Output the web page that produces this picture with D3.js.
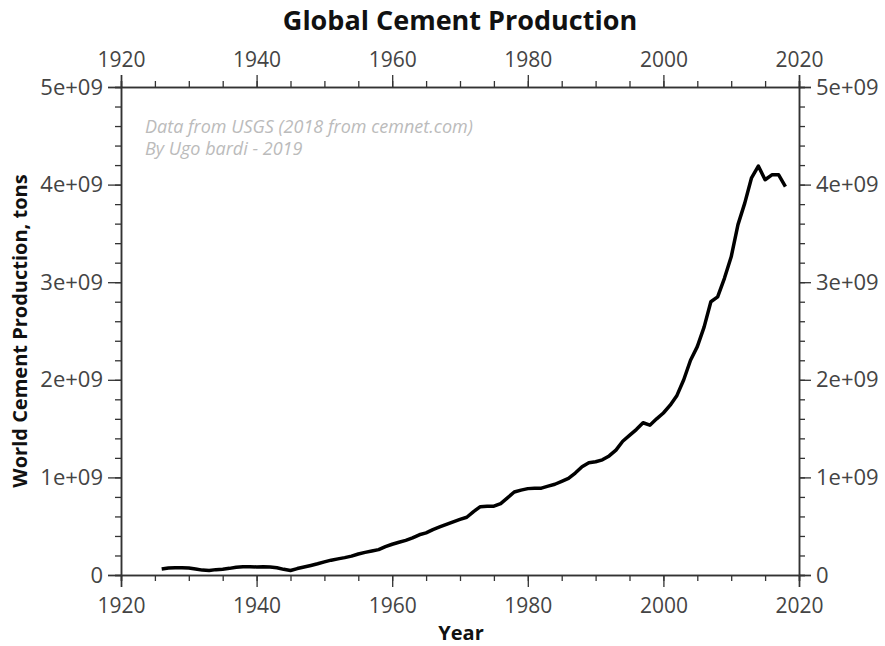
<!DOCTYPE html>
<html><head><meta charset="utf-8">
<script src="https://cdn.jsdelivr.net/npm/d3@7"></script>
<style>body{margin:0;background:#fff}</style>
</head><body>
<svg id="c" width="885" height="646"></svg>
<script>
const years = d3.range(1926, 2019);
const production = [
0.061,0.072,0.075,0.075,0.072,0.062,0.050,0.047,0.055,0.060,
0.068,0.080,0.085,0.085,0.083,0.085,0.082,0.074,0.058,0.046,
0.066,0.082,0.098,0.115,0.134,0.152,0.165,0.178,0.193,0.215,
0.232,0.246,0.260,0.290,0.315,0.335,0.355,0.380,0.412,0.432,
0.465,0.492,0.518,0.545,0.570,0.592,0.650,0.700,0.705,0.705,
0.732,0.790,0.850,0.870,0.885,0.888,0.890,0.910,0.930,0.960,
0.990,1.045,1.110,1.150,1.160,1.180,1.220,1.280,1.370,1.430,
1.490,1.560,1.535,1.600,1.660,1.740,1.840,2.000,2.200,2.340,
2.540,2.800,2.850,3.040,3.260,3.590,3.810,4.070,4.190,4.050,
4.100,4.100,3.980
].map(v => v * 1e9);
const xTicks = [1920, 1940, 1960, 1980, 2000, 2020];
const yTicks = [0, 1e9, 2e9, 3e9, 4e9, 5e9];
const yTickLabels = ["0", "1e+09", "2e+09", "3e+09", "4e+09", "5e+09"];

const svg = d3.select("#c");
const L = 121, R = 799, T = 87, B = 575;
const x = d3.scaleLinear().domain([1920, 2020]).range([L, R]);
const y = d3.scaleLinear().domain([0, 5e9]).range([B, T]);
const axisColor = "#333", labelColor = "#444";
const font = "'Open Sans', sans-serif";

function styleAxis(size) {
  return g => {
    g.selectAll("path.domain").attr("stroke", axisColor).attr("stroke-width", 1.5);
    g.selectAll(".tick line").attr("stroke", axisColor).attr("stroke-width", 1.3);
    g.selectAll("text").attr("fill", labelColor).style("font-family", font).style("font-size", size + "px");
  };
}
const xMinor = d3.range(1920, 2021, 5);
const yMinor = d3.range(0, 5e9 + 1, 2e8);

// minor ticks
const minorX = (orient, pos) => svg.append("g").attr("transform", `translate(0,${pos})`)
  .call(orient(x).tickValues(xMinor).tickSize(6).tickFormat(""))
  .call(styleAxis(20));
const minorY = (orient, pos) => svg.append("g").attr("transform", `translate(${pos},0)`)
  .call(orient(y).tickValues(yMinor).tickSize(6).tickFormat(""))
  .call(styleAxis(20));
minorX(d3.axisBottom, B); minorX(d3.axisTop, T);
minorY(d3.axisLeft, L); minorY(d3.axisRight, R);

// major
svg.append("g").attr("transform", `translate(0,${B})`)
  .call(d3.axisBottom(x).tickValues(xTicks).tickSize(12).tickPadding(11).tickFormat(d3.format("d")))
  .call(styleAxis(21));
svg.append("g").attr("transform", `translate(0,${T})`)
  .call(d3.axisTop(x).tickValues(xTicks).tickSize(12).tickPadding(8).tickFormat(d3.format("d")))
  .call(styleAxis(21));
svg.append("g").attr("transform", `translate(${L},0)`)
  .call(d3.axisLeft(y).tickValues(yTicks).tickSize(13).tickPadding(5).tickFormat((d, i) => yTickLabels[i]))
  .call(styleAxis(22));
svg.append("g").attr("transform", `translate(${R},0)`)
  .call(d3.axisRight(y).tickValues(yTicks).tickSize(12).tickPadding(5).tickFormat((d, i) => yTickLabels[i]))
  .call(styleAxis(22));

// line
svg.append("path")
  .datum(years.map((yr, i) => [yr, production[i]]))
  .attr("fill", "none").attr("stroke", "#000").attr("stroke-width", 3.5)
  .attr("stroke-linejoin", "round")
  .attr("d", d3.line().x(d => x(d[0])).y(d => y(d[1])));

// texts
svg.append("text").attr("x", 460).attr("y", 30).attr("text-anchor", "middle")
  .style("font-family", font).style("font-weight", "bold").style("font-size", "27px").attr("fill", "#111")
  .text("Global Cement Production");
svg.append("text").attr("x", 461).attr("y", 640).attr("text-anchor", "middle")
  .style("font-family", font).style("font-weight", "bold").style("font-size", "20px").attr("fill", "#111")
  .text("Year");
svg.append("text").attr("transform", `translate(27,${(T + B) / 2}) rotate(-90)`).attr("text-anchor", "middle")
  .style("font-family", font).style("font-weight", "bold").style("font-size", "20px").attr("fill", "#111")
  .text("World Cement Production, tons");
const note = svg.append("text").style("font-family", font).style("font-style", "italic")
  .style("font-size", "18px").attr("fill", "#bbb");
note.append("tspan").attr("x", 145).attr("y", 133).text("Data from USGS (2018 from cemnet.com)");
note.append("tspan").attr("x", 145).attr("y", 155).text("By Ugo bardi - 2019");
</script>
</body></html>
